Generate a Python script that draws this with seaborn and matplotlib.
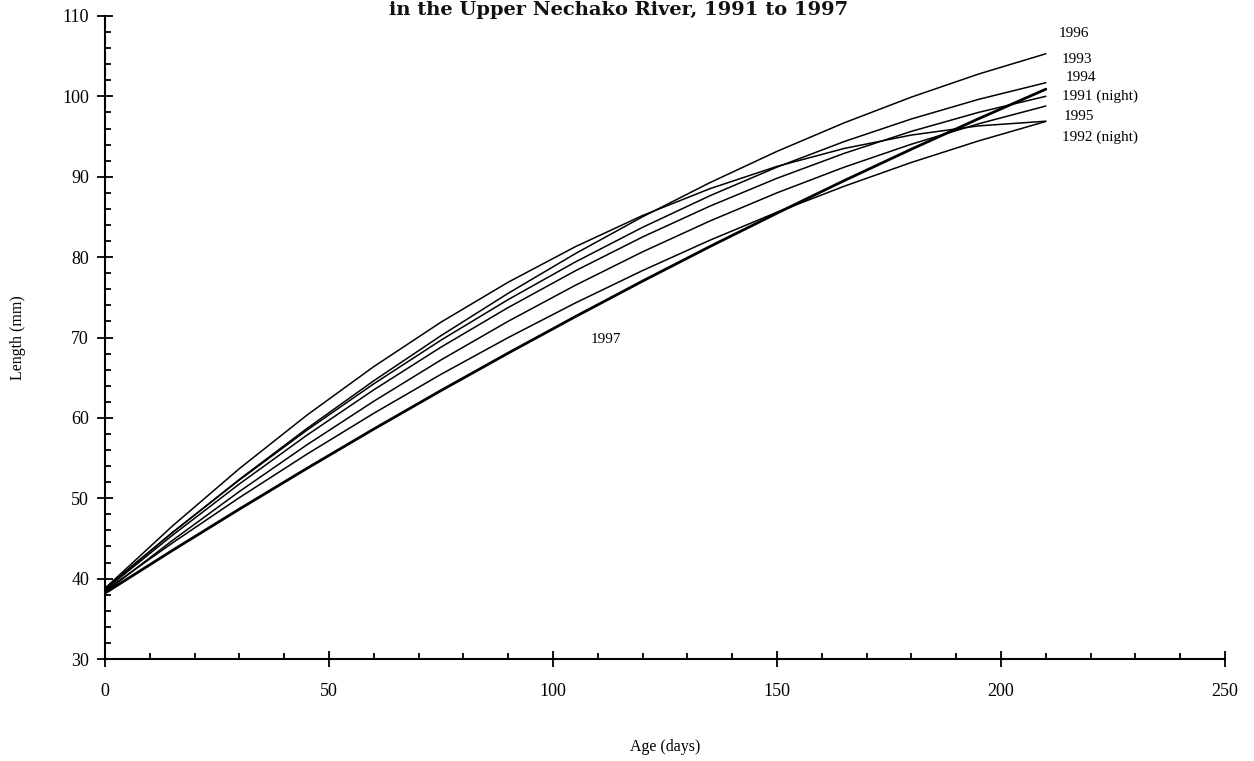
import matplotlib
matplotlib.use("Agg")
import matplotlib.pyplot as plt
from matplotlib.ticker import MultipleLocator
import numpy as np
import pandas as pd
import seaborn as sns

# Age (days) at which each fitted growth curve is tabulated
age_days = [0, 15, 30, 45, 60, 75, 90, 105, 120, 135, 150, 165, 180, 195, 210]

# Fitted length-at-age (mm) for each year
len_1996 = [38.7, 45.70, 52.35, 58.65, 64.62, 70.23, 75.50, 80.44, 85.02, 89.26, 93.16, 96.71, 99.91, 102.78, 105.30]
len_1993 = [38.8, 45.72, 52.27, 58.44, 64.24, 69.67, 74.72, 79.40, 83.71, 87.63, 91.20, 94.38, 97.19, 99.63, 101.70]
len_1994 = [38.6, 45.37, 51.78, 57.82, 63.49, 68.80, 73.73, 78.30, 82.51, 86.34, 89.81, 92.91, 95.65, 98.01, 100.01]
len_1991_night = [38.3, 44.73, 50.84, 56.62, 62.07, 67.21, 72.02, 76.50, 80.66, 84.49, 88.00, 91.19, 94.05, 96.59, 98.80]
len_1995 = [38.8, 46.52, 53.69, 60.31, 66.38, 71.91, 76.88, 81.30, 85.18, 88.51, 91.29, 93.52, 95.19, 96.33, 96.91]
len_1992_night = [38.5, 44.42, 50.08, 55.46, 60.57, 65.42, 69.99, 74.30, 78.33, 82.10, 85.59, 88.82, 91.78, 94.46, 96.88]
len_1997 = [38.2, 43.49, 48.65, 53.69, 58.61, 63.40, 68.06, 72.60, 77.02, 81.31, 85.47, 89.52, 93.43, 97.22, 100.89]

series_names = ["1996", "1993", "1994", "1991 (night)", "1995", "1992 (night)", "1997"]
series_values = [len_1996, len_1993, len_1994, len_1991_night, len_1995, len_1992_night, len_1997]

# Curve labels and where they sit (age, length)
label_text = ["1996", "1993", "1994", "1991 (night)", "1995", "1992 (night)", "1997"]
label_age = [212.8, 213.6, 214.5, 213.6, 214.1, 213.6, 108.3]
label_len = [107.8, 104.6, 102.3, 100.0, 97.5, 94.95, 69.7]

x_ticks = [0, 50, 100, 150, 200, 250]
y_ticks = [30, 40, 50, 60, 70, 80, 90, 100, 110]

frames = []
for name, vals in zip(series_names, series_values):
    frames.append(pd.DataFrame({"age": age_days, "length": vals, "year": name}))
data = pd.concat(frames, ignore_index=True)

sns.set_theme(style="ticks")
plt.rcParams["font.family"] = ["Liberation Serif", "DejaVu Serif"]
for key in ["text.color", "axes.labelcolor", "xtick.color", "ytick.color", "axes.edgecolor"]:
    plt.rcParams[key] = "black"

fig = plt.figure(figsize=(12.54, 7.61), dpi=100)
ax = fig.add_axes([105 / 1254, 1 - 659 / 761, 1120 / 1254, 643 / 761])

for name in series_names:
    sub = data[data["year"] == name]
    sns.lineplot(data=sub, x="age", y="length", ax=ax, color="black",
                 linewidth=2.0 if name == "1997" else 1.1, legend=False)

for t, xa, yl in zip(label_text, label_age, label_len):
    ax.text(xa, yl, t, fontsize=11, ha="left", va="center", color="black")

ax.set_xlim(0, 250)
ax.set_ylim(30, 110)
ax.set_xticks(x_ticks)
ax.set_yticks(y_ticks)
ax.xaxis.set_minor_locator(MultipleLocator(10))
ax.yaxis.set_minor_locator(MultipleLocator(2))
ax.tick_params(axis="both", which="major", direction="inout", length=11, width=1.3,
               labelsize=13, colors="black")
ax.tick_params(axis="x", which="major", pad=12)
ax.tick_params(axis="y", which="major", pad=6)
ax.tick_params(axis="both", which="minor", direction="in", length=4, width=1.3)
for side in ["top", "right"]:
    ax.spines[side].set_visible(False)
for side in ["left", "bottom"]:
    ax.spines[side].set_linewidth(1.5)
    ax.spines[side].set_zorder(5)

ax.set_xlabel("Age (days)", fontsize=11.5, labelpad=28)
ax.set_ylabel("Length (mm)", fontsize=11.5, labelpad=26)

fig.text(0.493, 1 - 15 / 761, "in the Upper Nechako River, 1991 to 1997",
         ha="center", va="baseline", fontsize=14, fontweight="bold",
         family=["DejaVu Serif"], color="#111111")

fig.savefig("out.png", dpi=100, facecolor="white")
